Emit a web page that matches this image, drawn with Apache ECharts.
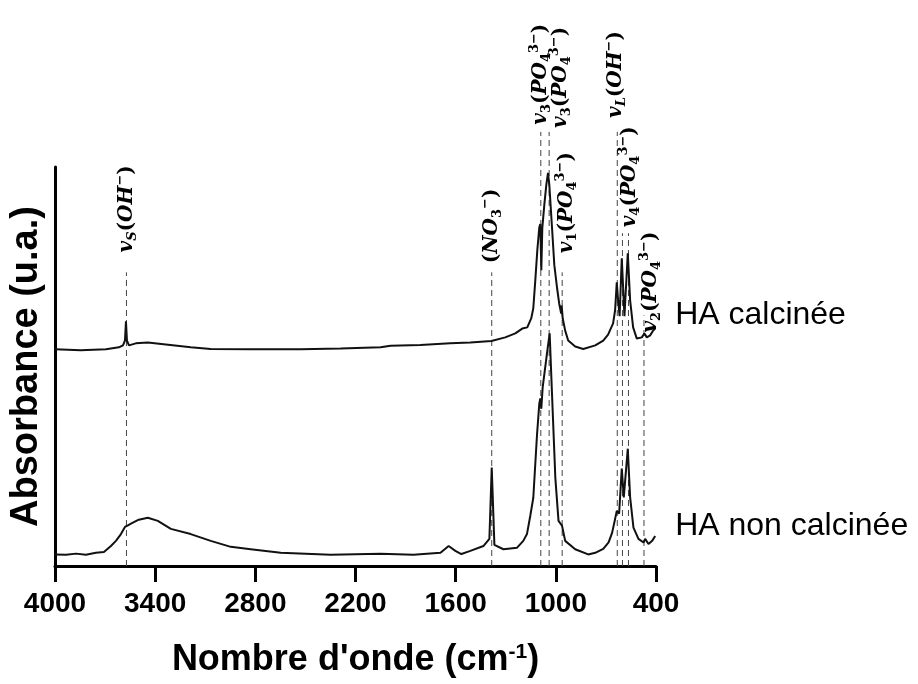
<!DOCTYPE html>
<html>
<head>
<meta charset="utf-8">
<script src="https://cdn.jsdelivr.net/npm/echarts@6/dist/echarts.min.js"></script>
<style>
  html, body { margin: 0; background: #fff; }
  #chart { width: 918px; height: 684px; }
</style>
</head>
<body>
<div id="chart"></div>
<script>
// FTIR spectra: wavenumber (cm-1) and absorbance (a.u., offset)
var calcWave = [4000, 3845, 3695, 3617, 3593, 3581, 3575, 3569, 3557, 3516, 3444, 3336, 3187, 3067, 2828, 2529, 2289, 2050, 1990, 1811,
  1632, 1512, 1386, 1303, 1243, 1201, 1171, 1147, 1135, 1123, 1111, 1099, 1093, 1087, 1081, 1069, 1057, 1047, 1039, 1023,
  1009, 993, 980, 968, 965, 959, 944, 926, 884, 836, 764, 716, 687, 657, 645, 635, 627, 618, 605, 589,
  569, 555, 537, 515, 485, 469, 455, 435, 417, 405];
var calcAbs = [54.3, 54.1, 54.3, 54.8, 55.3, 56.5, 61.3, 56.5, 55.3, 55.8, 56.0, 55.5, 54.8, 54.4, 54.3, 54.3, 54.5, 54.8, 55.2, 55.4,
  55.8, 56.0, 56.4, 57.3, 58.3, 59.5, 59.8, 62.1, 64.6, 71.6, 79.1, 84.9, 85.7, 74.1, 84.7, 90.5, 95.5, 98.5, 95.5, 84.9,
  75.4, 69.8, 65.8, 63.3, 65.3, 62.1, 59.0, 56.5, 55.0, 54.4, 55.3, 56.5, 58.0, 60.8, 64.1, 71.1, 66.6, 62.6, 77.1, 62.6,
  78.4, 66.6, 59.8, 57.0, 57.3, 58.3, 57.3, 57.8, 59.0, 59.5];

var rawWave = [4000, 3934, 3874, 3815, 3755, 3707, 3665, 3635, 3605, 3581, 3575, 3563, 3545, 3498, 3444, 3384, 3306, 3187, 3067, 2947,
  2828, 2648, 2349, 2050, 1853, 1691, 1642, 1602, 1566, 1512, 1434, 1398, 1384, 1368, 1314, 1232, 1195, 1173, 1153, 1135,
  1113, 1099, 1093, 1087, 1079, 1053, 1037, 1023, 1003, 984, 963, 944, 884, 806, 764, 716, 684, 663, 645, 635,
  621, 605, 593, 569, 555, 535, 505, 475, 465, 445, 423, 405];
var rawAbs = [2.9, 2.8, 3.1, 2.8, 3.3, 3.5, 5.0, 6.3, 8.0, 9.8, 10.3, 10.2, 10.6, 11.6, 12.1, 11.3, 9.3, 8.0, 6.3, 4.8,
  4.2, 3.3, 2.8, 3.1, 2.8, 3.3, 5.0, 3.8, 3.0, 3.8, 5.0, 6.8, 24.7, 5.3, 4.2, 4.6, 6.3, 8.0, 12.6, 17.1,
  32.7, 40.7, 42.0, 39.4, 44.7, 53.3, 58.3, 43.2, 22.1, 11.3, 10.1, 6.3, 4.2, 2.9, 3.3, 4.3, 5.9, 8.3, 11.8, 13.8,
  13.1, 24.4, 17.2, 29.4, 17.2, 9.6, 6.8, 5.9, 6.8, 5.5, 6.3, 7.5];

var seriesNames = ['HA calcinée', 'HA non calcinée'];

// band assignments: dashed marker wavenumber and the absorbance where the dash starts
var bandWave = [3572, 1384, 1090, 1040, 962, 632, 601, 565, 472];
var bandTop = [73.6, 73.6, 108.8, 108.8, 73.6, 108.8, 83.4, 83.4, 62.8];

// band labels (rich text) and where each one starts
var labelText = [
  '{i|v}{si|S}{p|(}{i|OH}{sup|−}{p|)}',
  '{p|(}{i|NO}{sub|3}{sup|−}{p|)}',
  '{i|v}{sub|3}{p|(}{i|PO}{sub|4}{sup|3−}{p|)}',
  '{i|v}{sub|3}{p|(}{i|PO}{sub|4}{sup|3−}{p|)}',
  '{i|v}{sub|1}{p|(}{i|PO}{sub|4}{sup|3−}{p|)}',
  '{i|v}{si|L}{p|(}{i|OH}{sup|−}{p|)}',
  '{i|v}{sub|4}{p|(}{i|PO}{sub|4}{sup|3−}{p|)}',
  '{i|v}{sub|2}{p|(}{i|PO}{sub|4}{sup|3−}{p|)}'
];
var labelWave = [3572, 1386, 1093, 970, 935, 639, 555, 432];
var labelBase = [78.6, 75.9, 110.6, 109.8, 78.4, 112.3, 84.9, 58.5];

function pairs(xs, ys) {
  return xs.map(function (x, i) { return [x, ys[i]]; });
}

var serif = 'DejaVu Serif';
var labelRich = {
  i: { fontFamily: serif, fontWeight: 'bold', fontStyle: 'italic', fontSize: 20, lineHeight: 25, color: '#000' },
  p: { fontFamily: serif, fontWeight: 'bold', fontSize: 20, lineHeight: 25, color: '#000' },
  sub: { fontFamily: serif, fontWeight: 'bold', fontSize: 13, lineHeight: 13, verticalAlign: 'bottom', color: '#000' },
  si: { fontFamily: serif, fontWeight: 'bold', fontStyle: 'italic', fontSize: 13, lineHeight: 13, verticalAlign: 'bottom', color: '#000' },
  sup: { fontFamily: serif, fontWeight: 'bold', fontSize: 13, lineHeight: 13, verticalAlign: 'top', color: '#000' }
};

var myChart = echarts.init(document.getElementById('chart'));

function endMark(name, xs, ys, dy) {
  var n = xs.length - 1;
  return {
    symbol: 'circle',
    symbolSize: 0,
    silent: true,
    label: {
      show: true,
      position: 'right',
      distance: 20,
      offset: [0, dy],
      formatter: name,
      fontFamily: 'Liberation Sans',
      fontSize: 32,
      color: '#000'
    },
    data: [{ coord: [xs[n], ys[n]] }]
  };
}

var option = {
  backgroundColor: '#fff',
  animation: false,
  grid: { left: 54, right: 262, top: 167, bottom: 118 },
  xAxis: {
    type: 'value',
    min: 400,
    max: 4000,
    interval: 600,
    inverse: true,
    name: "Nombre d'onde (cm{sup|-1})",
    nameLocation: 'middle',
    nameGap: 76,
    nameTextStyle: {
      fontFamily: 'Liberation Sans',
      fontWeight: 'bold',
      fontSize: 36,
      color: '#000',
      rich: {
        sup: { fontFamily: 'Liberation Sans', fontWeight: 'bold', fontSize: 21, verticalAlign: 'top', lineHeight: 21, color: '#000' }
      }
    },
    axisLine: { lineStyle: { color: '#000', width: 3 } },
    axisTick: { length: 16, lineStyle: { color: '#000', width: 3 } },
    axisLabel: {
      margin: 24,
      fontFamily: 'Liberation Sans',
      fontWeight: 'bold',
      fontSize: 28,
      color: '#000',
      formatter: function (v) { return String(v); }
    },
    splitLine: { show: false }
  },
  yAxis: {
    type: 'value',
    min: 0,
    max: 100,
    name: 'Absorbance (u.a.)',
    nameLocation: 'middle',
    nameRotate: 90,
    nameGap: 9,
    nameTextStyle: {
      fontFamily: 'Liberation Sans',
      fontWeight: 'bold',
      fontSize: 38,
      color: '#000'
    },
    axisLine: { show: true, lineStyle: { color: '#000', width: 3 } },
    axisTick: { show: false },
    axisLabel: { show: false },
    splitLine: { show: false }
  },
  series: [
    {
      name: seriesNames[0],
      type: 'line',
      data: pairs(calcWave, calcAbs),
      showSymbol: false,
      lineStyle: { color: '#111', width: 2 },
      markPoint: endMark(seriesNames[0], calcWave, calcAbs, -13),
      z: 3
    },
    {
      name: seriesNames[1],
      type: 'line',
      data: pairs(rawWave, rawAbs),
      showSymbol: false,
      lineStyle: { color: '#111', width: 2 },
      markPoint: endMark(seriesNames[1], rawWave, rawAbs, -10),
      z: 3
    },
    {
      // dashed band markers
      type: 'custom',
      silent: true,
      data: pairs(bandWave, bandTop),
      encode: { x: 0, y: 1 },
      renderItem: function (params, api) {
        var p0 = api.coord([api.value(0), 0]);
        var p1 = api.coord([api.value(0), api.value(1)]);
        return {
          type: 'line',
          shape: { x1: p0[0], y1: p0[1], x2: p1[0], y2: p1[1] },
          style: { stroke: '#444', lineWidth: 1, lineDash: [6, 4] }
        };
      },
      z: 2
    },
    {
      // rotated band labels
      type: 'custom',
      silent: true,
      data: pairs(labelWave, labelBase),
      encode: { x: 0, y: 1 },
      renderItem: function (params, api) {
        var p = api.coord([api.value(0), api.value(1)]);
        return {
          type: 'text',
          x: p[0],
          y: p[1],
          rotation: Math.PI / 2,
          style: {
            text: labelText[params.dataIndex],
            rich: labelRich,
            align: 'left',
            verticalAlign: 'middle'
          }
        };
      },
      z: 4
    }
  ]
};

myChart.setOption(option);
</script>
</body>
</html>
